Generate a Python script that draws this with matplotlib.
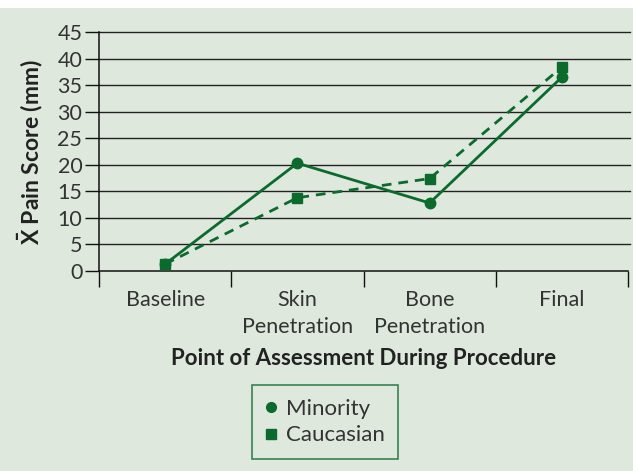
import numpy as np
import matplotlib.pyplot as plt
from matplotlib.lines import Line2D
from matplotlib.patches import Rectangle

plt.rcParams['font.family'] = ['Lato', 'DejaVu Sans']
plt.rcParams['mathtext.fontset'] = 'custom'
plt.rcParams['mathtext.bf'] = 'Lato:bold'
plt.rcParams['mathtext.rm'] = 'Lato'

categories = ['Baseline', 'Skin\nPenetration', 'Bone\nPenetration', 'Final']
minority = [1.3, 20.3, 12.8, 36.5]
caucasian = [1.3, 13.8, 17.4, 38.4]
yticks = [0, 5, 10, 15, 20, 25, 30, 35, 40, 45]

bg = '#dee8dd'
green = '#0b6a2c'

fig = plt.figure(figsize=(6.33, 4.71), dpi=100, facecolor='white')
# light green panel, white strip on top
fig.patches.append(Rectangle((0, 0), 1, 1 - 8/471, transform=fig.transFigure,
                             facecolor=bg, edgecolor='none', zorder=-1))
ax = fig.add_axes([99/633, 200/471, 529/633, 239/471])
ax.set_facecolor(bg)

x = np.arange(len(categories))
ax.plot(x, minority, color=green, lw=2, marker='o', ms=7.5, zorder=3, clip_on=False)
ax.plot(x, caucasian, color=green, lw=2, ls=(0, (3.5, 2.5)), marker='s', ms=7,
        zorder=3, clip_on=False)

ax.set_xlim(-0.5, 3.5)
ax.set_ylim(0, 45)
ax.set_yticks(yticks)
for v in yticks[1:]:
    ax.axhline(v, color='#222222', lw=1, zorder=1, xmax=1.004, clip_on=False)

for s in ['top', 'right']:
    ax.spines[s].set_visible(False)
for s in ['left', 'bottom']:
    ax.spines[s].set_color('#111111')
    ax.spines[s].set_linewidth(1.1)

ax.tick_params(axis='y', length=10, width=1, color='#111111', labelsize=15.5,
               labelcolor='#333333', pad=2)
# major ticks at category boundaries, labels on minor ticks
ax.set_xticks(np.arange(-0.5, 4, 1))
ax.set_xticklabels([])
ax.tick_params(axis='x', which='major', length=11.5, width=1, color='#111111')
ax.set_xticks(x, minor=True)
ax.set_xticklabels(categories, minor=True, fontsize=15.5, color='#333333',
                   linespacing=1.4)
ax.tick_params(axis='x', which='minor', length=0, pad=14)

ax.set_xlabel('Point of Assessment During Procedure', fontsize=16,
              fontweight='bold', color='#222222', labelpad=8)
ax.set_ylabel(r'$\mathbf{\bar{X}}$ Pain Score (mm)', fontsize=16.5,
              fontweight='bold', color='#222222', labelpad=9)

handles = [Line2D([], [], color=green, marker='o', ls='none', ms=7),
           Line2D([], [], color=green, marker='s', ls='none', ms=7)]
leg = fig.legend(handles, ['Minority', 'Caucasian'], loc='center',
                 bbox_to_anchor=(325/633, 49/471), fontsize=16, frameon=True,
                 fancybox=False, facecolor=bg, edgecolor=green,
                 handlelength=0.5, handletextpad=0.4, borderpad=0.6,
                 labelspacing=0.3, labelcolor='#333333', borderaxespad=0)
leg.get_frame().set_linewidth(1.2)

fig.savefig('out.png', dpi=100, facecolor='white')
